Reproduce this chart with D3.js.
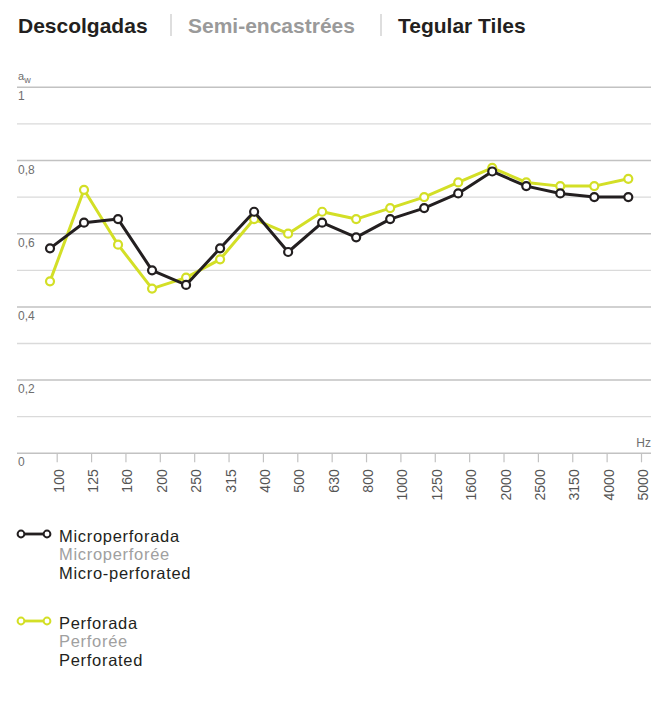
<!DOCTYPE html>
<html>
<head>
<meta charset="utf-8">
<script src="https://cdn.jsdelivr.net/npm/d3@7"></script>
<style>
	body { margin: 0; background: #fff; }
	text { font-family: "Liberation Sans", Arial, sans-serif; }
</style>
</head>
<body>
<div id="chart"></div>
<script>
// data
var freqs = ["100", "125", "160", "200", "250", "315", "400", "500", "630",
	"800", "1000", "1250", "1600", "2000", "2500", "3150", "4000", "5000"];
var microValues = [0.56, 0.63, 0.64, 0.50, 0.46, 0.56, 0.66, 0.55, 0.63,
	0.59, 0.64, 0.67, 0.71, 0.77, 0.73, 0.71, 0.70, 0.70];
var perfValues = [0.47, 0.72, 0.57, 0.45, 0.48, 0.53, 0.64, 0.60, 0.66,
	0.64, 0.67, 0.70, 0.74, 0.78, 0.74, 0.73, 0.73, 0.75];
var majorTicks = [0, 0.2, 0.4, 0.6, 0.8, 1];
var minorTicks = [0.1, 0.3, 0.5, 0.7, 0.9];
var titles = ["Descolgadas", "Semi-encastrées", "Tegular Tiles"];
var microLabels = ["Microperforada", "Microperforée", "Micro-perforated"];
var perfLabels = ["Perforada", "Perforée", "Perforated"];

var width = 661, height = 722;
var plotLeft = 17, plotRight = 651, plotTop = 87.3, plotBottom = 453.3;

var svg = d3.select("#chart")
	.append("svg")
	.attr("width", width)
	.attr("height", height);

// title row
var titleX = [18, 188, 398];
var titleCol = ["#231f20", "#9a9a9a", "#231f20"];
titles.forEach(function(t, i){
	svg.append("text")
		.attr("x", titleX[i])
		.attr("y", 33)
		.attr("font-size", "21px")
		.attr("font-weight", "bold")
		.attr("fill", titleCol[i])
		.text(t);
});
[171, 381].forEach(function(x){
	svg.append("line")
		.attr("x1", x).attr("x2", x)
		.attr("y1", 14).attr("y2", 36)
		.attr("stroke", "#bdbdbd")
		.attr("stroke-width", 1);
});

var y = d3.scaleLinear()
	.domain([0, 1])
	.range([plotBottom, plotTop]);

// marks sit on a slightly narrower band than the tick marks
var x = d3.scalePoint()
	.domain(freqs)
	.range([50, 628.3]);

var xTicks = d3.scalePoint()
	.domain(freqs)
	.range([56.7, 641]);

// grid
svg.append("g")
	.selectAll("line")
	.data(minorTicks)
	.enter()
	.append("line")
		.attr("x1", plotLeft).attr("x2", plotRight)
		.attr("y1", function(d){ return y(d); })
		.attr("y2", function(d){ return y(d); })
		.attr("stroke", "#dadada")
		.attr("stroke-width", 1.3);

svg.append("g")
	.selectAll("line")
	.data(majorTicks)
	.enter()
	.append("line")
		.attr("x1", plotLeft).attr("x2", plotRight)
		.attr("y1", function(d){ return y(d); })
		.attr("y2", function(d){ return y(d); })
		.attr("stroke", "#c2c2c2")
		.attr("stroke-width", 1.5);

svg.append("g")
	.selectAll("text")
	.data(majorTicks)
	.enter()
	.append("text")
		.attr("x", 18)
		.attr("y", function(d){ return y(d) + 13; })
		.attr("font-size", "12px")
		.attr("fill", "#6e6e6e")
		.text(function(d){ return String(d).replace(".", ","); });

// a_w label
var aw = svg.append("text")
	.attr("x", 18)
	.attr("y", 80)
	.attr("font-size", "11px")
	.attr("fill", "#6e6e6e");
aw.append("tspan").text("a");
aw.append("tspan").attr("dy", 3).attr("font-size", "9px").text("w");

svg.append("text")
	.attr("x", 651)
	.attr("y", 447)
	.attr("text-anchor", "end")
	.attr("font-size", "12px")
	.attr("fill", "#6e6e6e")
	.text("Hz");

// x axis
var xAxisCall = d3.axisBottom(xTicks)
	.tickSize(9)
	.tickSizeOuter(0);
var xAxis = svg.append("g")
	.attr("class", "x axis")
	.attr("transform", "translate(0, " + plotBottom + ")")
	.call(xAxisCall);
xAxis.select(".domain").remove();
xAxis.selectAll("line").attr("stroke", "#c2c2c2").attr("stroke-width", 1.2);
xAxis.selectAll("text")
	.attr("transform", "rotate(-90)")
	.attr("x", -16)
	.attr("y", 6.5)
	.attr("dy", 0)
	.attr("font-size", "14px")
	.attr("font-family", "'Liberation Sans', Arial, sans-serif")
	.attr("fill", "#555")
	.style("text-anchor", "end");

// series
var series = [
	{ values: perfValues, color: "#d3df26" },
	{ values: microValues, color: "#231f20" }
];

var line = d3.line()
	.x(function(d, i){ return x(freqs[i]); })
	.y(function(d){ return y(d); });

series.forEach(function(s){
	svg.append("path")
		.datum(s.values)
		.attr("fill", "none")
		.attr("stroke", s.color)
		.attr("stroke-width", 3)
		.attr("stroke-linejoin", "round")
		.attr("d", line);

	svg.append("g")
		.selectAll("circle")
		.data(s.values)
		.enter()
		.append("circle")
			.attr("cx", function(d, i){ return x(freqs[i]); })
			.attr("cy", function(d){ return y(d); })
			.attr("r", 4)
			.attr("fill", "#fff")
			.attr("stroke", s.color)
			.attr("stroke-width", 2.2);
});

// legend
var legend = [
	{ labels: microLabels, color: "#231f20", y0: 534 },
	{ labels: perfLabels, color: "#d3df26", y0: 621 }
];
var legendCol = ["#231f20", "#a0a0a0", "#231f20"];

legend.forEach(function(l){
	var g = svg.append("g");
	g.append("line")
		.attr("x1", 21).attr("x2", 47)
		.attr("y1", l.y0).attr("y2", l.y0)
		.attr("stroke", l.color)
		.attr("stroke-width", 2.8);
	[21, 47].forEach(function(cx){
		g.append("circle")
			.attr("cx", cx).attr("cy", l.y0)
			.attr("r", 3.4)
			.attr("fill", "#fff")
			.attr("stroke", l.color)
			.attr("stroke-width", 2);
	});
	l.labels.forEach(function(t, i){
		g.append("text")
			.attr("x", 59)
			.attr("y", l.y0 + 8 + i * 18.3)
			.attr("font-size", "16.5px")
			.attr("letter-spacing", "0.7px")
			.attr("fill", legendCol[i])
			.text(t);
	});
});
</script>
</body>
</html>
